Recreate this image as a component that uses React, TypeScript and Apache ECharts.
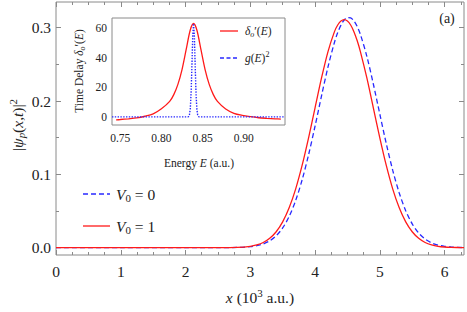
import React, { useEffect, useRef } from 'react';
import * as echarts from 'echarts';

// ---- Main panel data: |psi_p(x,t)|^2 vs x (10^3 a.u.) ----
const xPos = [0, 1, 2, 2.5, 2.8, 3.0, 3.1, 3.2, 3.3, 3.4, 3.5, 3.6, 3.7, 3.8, 3.9, 4.0, 4.1, 4.2, 4.3, 4.35, 4.4, 4.45, 4.5, 4.55, 4.6, 4.65, 4.7, 4.8, 4.9, 5.0, 5.1, 5.2, 5.3, 5.4, 5.5, 5.6, 5.7, 5.8, 5.9, 6.0, 6.1, 6.2, 6.3];
const densityV1 = [0, 0, 0, 0.00003, 0.0004, 0.0019, 0.0038, 0.0071, 0.0128, 0.0217, 0.0351, 0.0543, 0.0799, 0.1121, 0.1498, 0.1907, 0.2314, 0.2674, 0.2946, 0.3036, 0.3091, 0.311, 0.3091, 0.3036, 0.2946, 0.2824, 0.2674, 0.2314, 0.1907, 0.1498, 0.1121, 0.0799, 0.0543, 0.0351, 0.0217, 0.0128, 0.0071, 0.0038, 0.0019, 0.0009, 0.0004, 0.0002, 0.0001];
const densityV0 = [0, 0, 0, 0.00002, 0.0003, 0.0013, 0.0027, 0.0051, 0.0093, 0.0162, 0.0269, 0.0425, 0.0641, 0.0923, 0.1266, 0.1657, 0.207, 0.2465, 0.2801, 0.2933, 0.3035, 0.3104, 0.3137, 0.3133, 0.3093, 0.3017, 0.2909, 0.2609, 0.2232, 0.1822, 0.1418, 0.1053, 0.0746, 0.0504, 0.0325, 0.0199, 0.0117, 0.0065, 0.0035, 0.0018, 0.0009, 0.0004, 0.0002];

// ---- Inset data: time delay and g(E)^2 vs energy ----
const energyDelay = [0.745, 0.75, 0.76, 0.77, 0.78, 0.79, 0.8, 0.81, 0.815, 0.82, 0.825, 0.83, 0.835, 0.839, 0.843, 0.848, 0.853, 0.858, 0.863, 0.868, 0.878, 0.888, 0.898, 0.908, 0.918, 0.928, 0.938, 0.945];
const timeDelay = [-2.0, -1.8, -1.3, -0.7, 0.4, 2.0, 5.4, 10.4, 15.0, 21.9, 31.9, 45.3, 58.6, 63.0, 58.6, 45.3, 31.9, 21.9, 15.0, 10.4, 5.3, 2.4, 1.0, 0.1, -0.6, -1.0, -1.3, -1.5];
const energyG = [0.74, 0.832, 0.833, 0.834, 0.835, 0.836, 0.837, 0.838, 0.839, 0.84, 0.841, 0.842, 0.843, 0.844, 0.845, 0.846, 0.95];
const gSquared = [0, 0, 0.2, 1.3, 5.3, 15.7, 34, 54, 63, 54, 34, 15.7, 5.3, 1.3, 0.2, 0, 0];

// ---- Tick values ----
const xTicks = [0, 1, 2, 3, 4, 5, 6];
const xMinor = [0.25, 0.5, 0.75, 1.25, 1.5, 1.75, 2.25, 2.5, 2.75, 3.25, 3.5, 3.75, 4.25, 4.5, 4.75, 5.25, 5.5, 5.75, 6.25];
const yTicks = [0, 0.1, 0.2, 0.3];
const yMinor = [0.05, 0.15, 0.25];
const insetXTicks = [0.75, 0.8, 0.85, 0.9];
const insetXMinor = [0.74, 0.76, 0.77, 0.78, 0.79, 0.81, 0.82, 0.83, 0.84, 0.86, 0.87, 0.88, 0.89, 0.91, 0.92, 0.93, 0.94];
const insetYTicks = [0, 20, 40, 60];
const insetYMinor = [10, 30, 50];

const FONT = 'Liberation Serif';
const GRAY = '#8a8a8a';
const TXT = '#222222';
const RED = '#ff1a1a';
const BLUE = '#2828ff';

function axisPair(
  gridIndex: number,
  position: string,
  min: number,
  max: number,
  majors: number[],
  minors: number[],
  majorLen: number,
  minorLen: number,
  label: any
) {
  const base = {
    type: 'value',
    gridIndex,
    position,
    min,
    max,
    axisLine: { show: false, onZero: false },
    splitLine: { show: false },
    splitArea: { show: false },
  };
  const tickStyle = { color: GRAY, width: 1 };
  return [
    {
      ...base,
      axisTick: { show: true, inside: true, length: majorLen, customValues: majors, lineStyle: tickStyle },
      axisLabel: label
        ? { show: true, customValues: majors, fontFamily: FONT, color: TXT, ...label }
        : { show: false },
    },
    {
      ...base,
      axisTick: { show: true, inside: true, length: minorLen, customValues: minors, lineStyle: tickStyle },
      axisLabel: { show: false },
    },
  ];
}

function rich(size: number) {
  const small = Math.round(size * 0.7 * 10) / 10;
  return {
    n: { fontFamily: FONT, fontSize: size, fill: TXT, lineHeight: size + 4, verticalAlign: 'middle' },
    i: { fontFamily: FONT, fontSize: size, fill: TXT, fontStyle: 'italic', lineHeight: size + 4, verticalAlign: 'middle' },
    sub: { fontFamily: FONT, fontSize: small, fill: TXT, fontStyle: 'italic', lineHeight: small + 1, verticalAlign: 'bottom' },
    subn: { fontFamily: FONT, fontSize: small, fill: TXT, lineHeight: small + 1, verticalAlign: 'bottom' },
    sup: { fontFamily: FONT, fontSize: small, fill: TXT, lineHeight: small + 1, verticalAlign: 'top' },
  };
}

function textEl(x: number, y: number, text: string, size: number, align: string, rotation = 0) {
  return {
    type: 'text',
    x,
    y,
    rotation,
    z: 20,
    silent: true,
    style: {
      text,
      rich: rich(size),
      fill: TXT,
      fontFamily: FONT,
      fontSize: size,
      align,
      verticalAlign: 'middle',
    },
  };
}

function lineEl(x1: number, y1: number, x2: number, y2: number, color: string, dash: any) {
  return {
    type: 'line',
    z: 20,
    silent: true,
    shape: { x1, y1, x2, y2 },
    style: { stroke: color, lineWidth: 1.3, lineDash: dash },
  };
}

export default function App() {
  const ref = useRef<HTMLDivElement>(null);

  useEffect(() => {
    if (!ref.current) return;
    const chart = echarts.init(ref.current, null, { renderer: 'svg' });

    const mainX = [
      ...axisPair(0, 'bottom', 0, 6.3, xTicks, xMinor, 5, 3, { margin: 8, fontSize: 15.5, formatter: (v: number) => String(v) }),
      ...axisPair(0, 'top', 0, 6.3, xTicks, xMinor, 5, 3, null),
    ];
    const insetX = [
      ...axisPair(1, 'bottom', 0.74, 0.95, insetXTicks, insetXMinor, 4, 2.5, { margin: 7, fontSize: 11.5, formatter: (v: number) => v.toFixed(2) }),
      ...axisPair(1, 'top', 0.74, 0.95, insetXTicks, insetXMinor, 4, 2.5, null),
    ];
    const mainY = [
      ...axisPair(0, 'left', -0.01, 0.335, yTicks, yMinor, 5, 3, { margin: 5, fontSize: 15.5, formatter: (v: number) => v.toFixed(1) }),
      ...axisPair(0, 'right', -0.01, 0.335, yTicks, yMinor, 5, 3, null),
    ];
    const insetY = [
      ...axisPair(1, 'left', -5.5, 66.7, insetYTicks, insetYMinor, 4, 2.5, { margin: 5, fontSize: 11.5, formatter: (v: number) => String(Math.round(v)) }),
      ...axisPair(1, 'right', -5.5, 66.7, insetYTicks, insetYMinor, 4, 2.5, null),
    ];

    const option: any = {
      animation: false,
      backgroundColor: '#ffffff',
      grid: [
        {
          left: 56, top: 2, width: 408, height: 253,
          show: true, borderColor: GRAY, borderWidth: 1, backgroundColor: 'transparent',
          containLabel: false, outerBoundsMode: 'none',
        },
        {
          left: 112, top: 18, width: 173, height: 107,
          show: true, borderColor: GRAY, borderWidth: 1, backgroundColor: '#ffffff',
          containLabel: false, outerBoundsMode: 'none', z: 5,
        },
      ],
      xAxis: [...mainX, ...insetX],
      yAxis: [...mainY, ...insetY],
      series: [
        {
          type: 'line', name: 'V0 = 0', xAxisIndex: 0, yAxisIndex: 0,
          data: xPos.map((x, i) => [x, densityV0[i]]),
          symbol: 'none', smooth: 0.3, z: 2,
          lineStyle: { color: BLUE, width: 1.3, type: [5, 3] },
        },
        {
          type: 'line', name: 'V0 = 1', xAxisIndex: 0, yAxisIndex: 0,
          data: xPos.map((x, i) => [x, densityV1[i]]),
          symbol: 'none', smooth: 0.3, z: 3,
          lineStyle: { color: RED, width: 1.3 },
        },
        {
          type: 'line', name: 'delay', xAxisIndex: 4, yAxisIndex: 4,
          data: energyDelay.map((e, i) => [e, timeDelay[i]]),
          symbol: 'none', smooth: 0.3, z: 6,
          lineStyle: { color: RED, width: 1.3 },
        },
        {
          type: 'line', name: 'g2', xAxisIndex: 4, yAxisIndex: 4,
          data: energyG.map((e, i) => [e, gSquared[i]]),
          symbol: 'none', smooth: false, z: 7,
          lineStyle: { color: BLUE, width: 1.4, type: [1.4, 1.4] },
        },
      ],
      graphic: {
        elements: [
          // main axis titles
          textEl(17, 125, '{n||}{i|ψ}{sub|p}{n|(}{i|x}{n|,}{i|t}{n|)|}{sup|2}', 15.5, 'center', Math.PI / 2),
          textEl(260, 297, '{i|x}{n| (10}{sup|3}{n| a.u.)}', 15.5, 'center'),
          textEl(447, 18, '{n|(a)}', 14, 'center'),
          // main legend
          lineEl(83, 194, 110, 194, BLUE, [5, 3]),
          textEl(116, 194, '{i|V}{subn|0}{n| = 0}', 15.5, 'left'),
          lineEl(83, 226, 110, 226, RED, null),
          textEl(116, 226, '{i|V}{subn|0}{n| = 1}', 15.5, 'left'),
          // inset titles
          textEl(79, 71, '{n|Time Delay }{i|δ}{sub|o}{n|′(}{i|E}{n|)}', 11.5, 'center', Math.PI / 2),
          textEl(199, 163, '{n|Energy }{i|E}{n| (a.u.)}', 11.5, 'center'),
          // inset legend
          lineEl(220, 31, 238, 31, RED, null),
          textEl(245, 31, '{i|δ}{sub|o}{n|′(}{i|E}{n|)}', 11.5, 'left'),
          lineEl(220, 58, 238, 58, BLUE, [4, 2.5]),
          textEl(245, 58, '{i|g}{n|(}{i|E}{n|)}{sup|2}', 11.5, 'left'),
        ],
      },
    };

    chart.setOption(option);
    return () => {
      chart.dispose();
    };
  }, []);

  return (
    <div
      ref={ref}
      style={{ position: 'fixed', left: 0, top: 0, width: 467, height: 312, background: '#fff' }}
    />
  );
}
